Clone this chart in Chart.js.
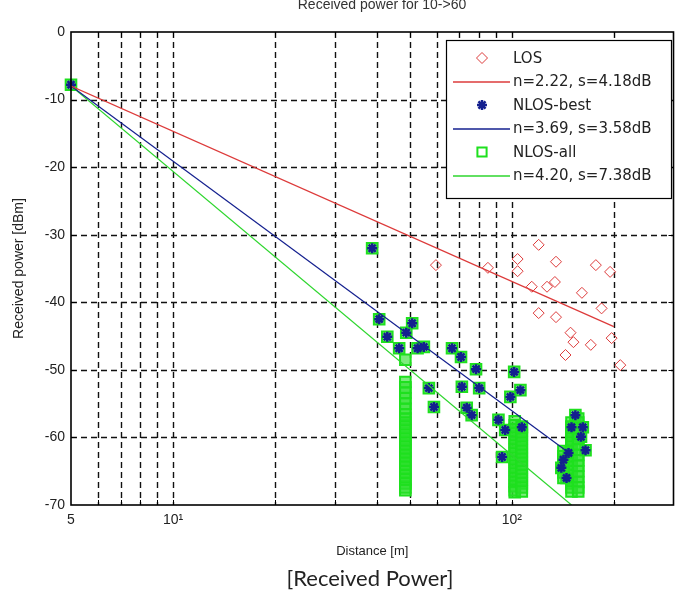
<!DOCTYPE html>
<html>
<head>
<meta charset="utf-8">
<script src="https://cdn.jsdelivr.net/npm/chart.js@4.4.1/dist/chart.umd.min.js"></script>
<style>
  html, body { margin: 0; padding: 0; background: #fff; }
  canvas { display: block; }
</style>
</head>
<body>
<canvas id="chart" width="683" height="599"></canvas>
<script>
// axes
const xTicks = [5, 6, 7, 8, 9, 10, 20, 30, 40, 50, 60, 70, 80, 90, 100, 200, 300];
const xLabelValues = [5, 10, 100];
const xLabelText = ['5', '10\u00b9', '10\u00b2'];
const yTicks = [0, -10, -20, -30, -40, -50, -60, -70];

const chartTitle = 'Received power for 10->60';
const xTitle = 'Distance [m]';
const yTitle = 'Received power [dBm]';
const caption = '[Received Power]';
const legendLabels = ['LOS', 'n=2.22, s=4.18dB', 'NLOS-best', 'n=3.69, s=3.58dB', 'NLOS-all', 'n=4.20, s=7.38dB'];

// LOS measurements
const losDist  = [59.7, 85, 104, 104, 120, 135, 177, 195, 114.5, 127, 134, 161, 184, 120, 135, 149, 152, 171, 197, 144, 209];
const losPower = [-34.5, -34.9, -33.6, -35.4, -31.5, -34.0, -34.5, -35.5, -37.7, -37.7, -37.0, -38.6, -40.9, -41.6, -42.2, -44.5, -45.9, -46.3, -45.3, -47.8, -49.3];

// NLOS-best measurements
const bestDist  = [5, 38.7, 40.6, 50.8, 48.8, 42.9, 46.5, 52.7, 55.0, 66.6, 70.8, 78.4, 101.6, 56.9, 71.2, 80.1, 106, 99,
                   58.9, 73.6, 76.1, 91.3, 95.6, 107, 93.6, 154, 150, 162, 160, 165, 142, 147, 140, 145];
const bestPower = [-7.8, -32.0, -42.5, -43.1, -44.5, -45.1, -46.8, -46.8, -46.6, -46.8, -48.1, -49.9, -50.3, -52.7, -52.5, -52.7, -53.0, -54.0,
                   -55.5, -55.6, -56.7, -57.4, -58.9, -58.5, -62.9, -56.7, -58.5, -58.5, -59.9, -61.9, -63.3, -62.3, -64.5, -66.0];

// NLOS-all: extra stacked measurements per distance (plus all NLOS-best points)
const stackDist = [48.5, 102, 107, 150, 157, 142];
const stackPower = [
  [-48.5, -51.8, -52.6, -53.4, -54.2, -55.0, -55.8, -56.6, -57.2, -57.8, -58.4, -59.0, -59.6, -60.2, -60.8, -61.4, -62.0, -62.6, -63.2, -63.8, -64.4, -65.0, -65.6, -66.2, -66.8, -67.4, -67.8],
  [-57.6, -58.2, -58.8, -59.4, -60.0, -60.6, -61.2, -61.8, -62.4, -63.0, -63.6, -64.2, -64.8, -65.4, -66.0, -66.6, -67.2, -67.8, -68.1],
  [-58.4, -59.0, -59.6, -60.2, -60.8, -61.4, -62.0, -62.6, -63.2, -63.8, -64.4, -65.0, -65.6, -66.2, -66.8, -67.4, -68.0],
  [-57.8, -58.4, -59.0, -59.6, -60.2, -60.8, -61.4, -62.0, -62.6, -63.2, -63.8, -64.4, -65.0, -65.6, -66.2, -66.8, -67.4, -68.0],
  [-57.2, -57.8, -58.6, -59.4, -60.2, -61.0, -61.8, -62.6, -63.4, -64.2, -65.0, -65.8, -66.6, -67.4, -68.0],
  [-62.0, -62.8, -63.6, -64.4, -65.2, -66.0]
];

// fitted path-loss lines (end points)
const losFitDist = [5, 200],  losFitPower = [-8, -43.6];
const bestFitDist = [5, 145], bestFitPower = [-8, -62.0];
const allFitDist = [5, 150],  allFitPower = [-8, -70];

const RED = '#dd3b3b', BLUE = '#14208f', GREEN = '#1ee01e';
const FONT = '"Liberation Sans", Arial, sans-serif';

const toPts = (xs, ys) => xs.map((d, i) => ({ x: d, y: ys[i] }));
const allPts = toPts(bestDist, bestPower);
stackDist.forEach((d, i) => stackPower[i].forEach(p => allPts.push({ x: d, y: p })));

const datasets = [
  { label: legendLabels[0], data: toPts(losDist, losPower), pointStyle: 'rectRot', pointRadius: 5.5,
    borderColor: RED, backgroundColor: 'rgba(0,0,0,0)', borderWidth: 1, clip: false, order: 2 },
  { label: legendLabels[1], data: toPts(losFitDist, losFitPower), showLine: true, pointRadius: 0,
    borderColor: RED, borderWidth: 1.2, order: 0 },
  { label: legendLabels[2], data: toPts(bestDist, bestPower), pointStyle: 'star', pointRadius: 5,
    borderColor: BLUE, backgroundColor: BLUE, borderWidth: 2.5, clip: false, order: 1 },
  { label: legendLabels[3], data: toPts(bestFitDist, bestFitPower), showLine: true, pointRadius: 0,
    borderColor: BLUE, borderWidth: 1.2, order: 0 },
  { label: legendLabels[4], data: allPts, pointStyle: 'rect', pointRadius: 7.5,
    borderColor: GREEN, backgroundColor: 'rgba(45,225,45,0.62)', borderWidth: 2, clip: false, order: 3 },
  { label: legendLabels[5], data: toPts(allFitDist, allFitPower), showLine: true, pointRadius: 0,
    borderColor: '#2ed62e', borderWidth: 1.2, order: 0 }
];

// dashed grid under the data
const gridPlugin = {
  id: 'matlabGrid',
  beforeDatasetsDraw(chart) {
    const { ctx, chartArea: a, scales: { x, y } } = chart;
    ctx.save();
    ctx.strokeStyle = '#111';
    ctx.lineWidth = 1.4;
    ctx.setLineDash([6, 4]);
    xTicks.slice(1, -1).forEach(v => {
      const px = Math.round(x.getPixelForValue(v)) + 0.5;
      ctx.beginPath(); ctx.moveTo(px, a.top); ctx.lineTo(px, a.bottom); ctx.stroke();
    });
    yTicks.slice(1, -1).forEach(v => {
      const py = Math.round(y.getPixelForValue(v)) + 0.5;
      ctx.beginPath(); ctx.moveTo(a.left, py); ctx.lineTo(a.right, py); ctx.stroke();
    });
    ctx.restore();
  }
};

function drawSymbol(ctx, ds, cx, cy) {
  ctx.save();
  ctx.strokeStyle = ds.borderColor;
  ctx.fillStyle = '#fff';
  if (ds.showLine) {
    ctx.lineWidth = 1.5;
    ctx.beginPath(); ctx.moveTo(cx - 29, cy + 0.5); ctx.lineTo(cx + 28, cy + 0.5); ctx.stroke();
  } else {
    ctx.lineWidth = ds.borderWidth;
    const r = ds.pointStyle === 'rect' ? 6.5 : ds.pointRadius;
    Chart.helpers.drawPoint(ctx, { pointStyle: ds.pointStyle, radius: r, rotation: 0, borderWidth: ds.borderWidth }, cx, cy);
  }
  ctx.restore();
}

// box, inner ticks, legend, titles
const framePlugin = {
  id: 'matlabFrame',
  afterDatasetsDraw(chart) {
    const { ctx, chartArea: a, scales: { x, y } } = chart;
    ctx.save();
    ctx.strokeStyle = '#000';
    ctx.lineWidth = 1;
    xTicks.slice(1, -1).forEach(v => {
      const px = Math.round(x.getPixelForValue(v)) + 0.5;
      ctx.beginPath();
      ctx.moveTo(px, a.bottom); ctx.lineTo(px, a.bottom - 5);
      ctx.moveTo(px, a.top); ctx.lineTo(px, a.top + 5);
      ctx.stroke();
    });
    yTicks.slice(1, -1).forEach(v => {
      const py = Math.round(y.getPixelForValue(v)) + 0.5;
      ctx.beginPath();
      ctx.moveTo(a.left, py); ctx.lineTo(a.left + 5, py);
      ctx.moveTo(a.right, py); ctx.lineTo(a.right - 5, py);
      ctx.stroke();
    });
    ctx.lineWidth = 1.6;
    ctx.strokeRect(a.left, a.top, a.right - a.left, a.bottom - a.top);

    // legend
    const lx = 446, ly = 40, lw = 225, lh = 158;
    ctx.fillStyle = '#fff';
    ctx.fillRect(lx, ly, lw, lh);
    ctx.lineWidth = 1.2;
    ctx.strokeRect(lx + 0.5, ly + 0.5, lw, lh);
    ctx.font = '15px "DejaVu Sans", sans-serif';
    ctx.textBaseline = 'middle';
    ctx.textAlign = 'left';
    chart.data.datasets.forEach((ds, i) => {
      const ry = ly + 18 + i * 23.5;
      drawSymbol(ctx, ds, 482, ry);
      ctx.fillStyle = '#222';
      ctx.fillText(ds.label, 513, ry + 1);
    });

    // title (cut at the top edge as in the source) and caption
    ctx.fillStyle = '#333';
    ctx.textAlign = 'center';
    ctx.textBaseline = 'alphabetic';
    ctx.font = '14px ' + FONT;
    ctx.fillText(chartTitle, 382, 9);
    ctx.fillStyle = '#222';
    ctx.font = '22px Lato, "Open Sans", sans-serif';
    ctx.fillText(caption, 370, 586);
    ctx.restore();
  }
};

new Chart(document.getElementById('chart'), {
  type: 'scatter',
  data: { datasets },
  options: {
    responsive: false,
    animation: false,
    devicePixelRatio: 1,
    layout: { padding: { top: 32, right: 8, bottom: 0, left: 0 } },
    plugins: { legend: { display: false }, tooltip: { enabled: false } },
    scales: {
      x: {
        type: 'logarithmic',
        min: 5, max: 300,
        afterBuildTicks: s => { s.ticks = xTicks.map(v => ({ value: v })); },
        afterFit: s => { s.height = 94; },
        grid: { display: false, drawTicks: false },
        border: { display: false },
        ticks: {
          autoSkip: false, maxRotation: 0, minRotation: 0, padding: 7,
          color: '#222', font: { family: FONT, size: 14 },
          callback: v => { const k = xLabelValues.indexOf(v); return k < 0 ? '' : xLabelText[k]; }
        },
        title: { display: true, text: xTitle, color: '#222', font: { family: FONT, size: 13 }, padding: { top: 0, bottom: 40 } }
      },
      y: {
        min: -70, max: 0,
        afterBuildTicks: s => { s.ticks = yTicks.map(v => ({ value: v })); },
        afterFit: s => { s.width = 71; },
        grid: { display: false, drawTicks: false },
        border: { display: false },
        ticks: { padding: 6, color: '#222', font: { family: FONT, size: 14 } },
        title: { display: true, text: yTitle, color: '#222', font: { family: FONT, size: 14 }, padding: { top: 11, bottom: 0 } }
      }
    }
  },
  plugins: [gridPlugin, framePlugin]
});
</script>
</body>
</html>
